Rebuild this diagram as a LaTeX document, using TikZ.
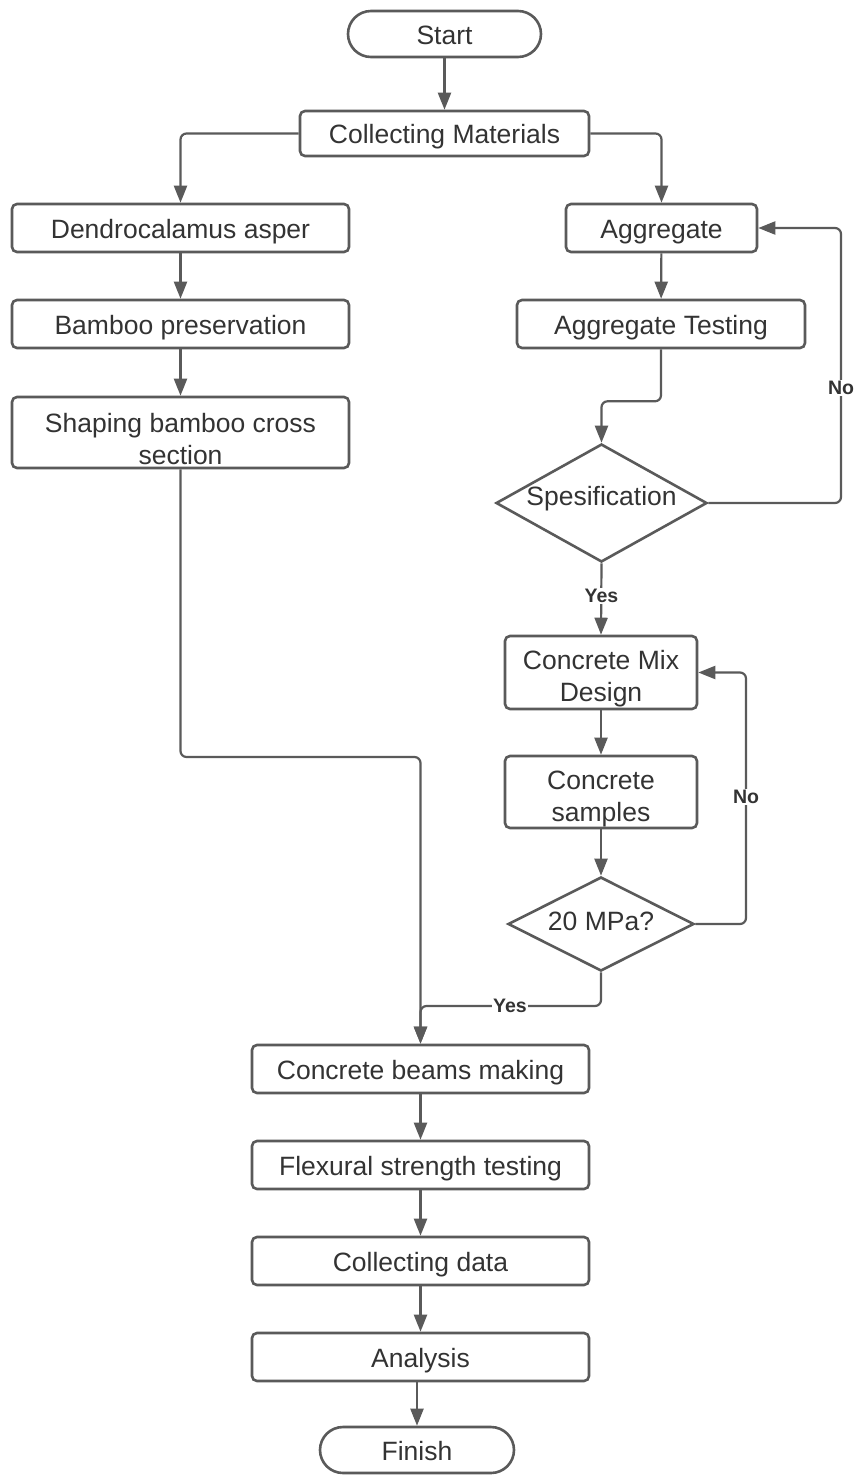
\documentclass[tikz,border=0pt]{standalone}
\usepackage{fontspec}
\setmainfont{Liberation Sans}
\usetikzlibrary{shapes.geometric,arrows.meta}
\definecolor{ln}{HTML}{5A5A5A}
\definecolor{tx}{HTML}{333333}
\begin{document}
\begin{tikzpicture}[x=1pt,y=-1pt,
 base/.style={draw=ln, line width=2.6pt, fill=white, text=tx, font=\fontsize{26.5}{32}\selectfont, align=center, inner sep=0pt},
 proc/.style={base, rectangle, rounded corners=5pt},
 one/.style={text height=20pt, text depth=0pt},
 term/.style={base, one, rectangle, rounded corners=23pt, minimum width=193pt, minimum height=46pt},
 dec/.style={base, diamond},
 txt/.style={text=tx, font=\fontsize{26.5}{32}\selectfont, align=center, inner sep=0pt},
 arr/.style={draw=ln, line width=2.2pt, -{Triangle[length=17pt,width=13pt]}, rounded corners=6pt},
 lab/.style={fill=white, text=tx, font=\bfseries\fontsize{19.5}{22}\selectfont, inner sep=1pt}
]
\useasboundingbox (0,0) rectangle (857,1476);
\fill[white] (0,0) rectangle (857,1476);

\node[term] (start) at (444.5,34) {Start};
\node[proc, one, minimum width=289pt, minimum height=45pt] (collect) at (444.5,133.5) {Collecting Materials};
\node[proc, one, minimum width=337pt, minimum height=48pt] (dendro) at (180.5,228) {Dendrocalamus asper};
\node[proc, one, minimum width=337pt, minimum height=48pt] (bamboo) at (180.5,324) {Bamboo preservation};
\node[proc, minimum width=337pt, minimum height=71pt] (shaping) at (180.5,432.5) {};
\node[txt] (shapingtext) at (180.5,439) {Shaping bamboo cross\\section};
\node[proc, one, minimum width=191pt, minimum height=48pt] (agg) at (661.5,228) {Aggregate};
\node[proc, one, minimum width=288pt, minimum height=48pt] (aggtest) at (661,324) {Aggregate Testing};
\node[dec, aspect=1.79, minimum width=211pt, minimum height=118pt] (spec) at (601.5,503) {};
\node[txt] (spectext) at (601.5,499) {Spesification};
\node[proc, minimum width=192pt, minimum height=73pt] (mix) at (601,672.5) {};
\node[txt] (mixtext) at (601,679) {Concrete Mix\\Design};
\node[proc, minimum width=192pt, minimum height=72pt] (samples) at (601,792) {};
\node[txt] (samplestext) at (601,799) {Concrete\\samples};
\node[dec, aspect=1.98, minimum width=186pt, minimum height=94pt] (mpa) at (601,924) {};
\node[txt] (mpatext) at (601,921) {20 MPa?};
\node[proc, one, minimum width=337pt, minimum height=48pt] (beams) at (420.5,1069) {Concrete beams making};
\node[proc, one, minimum width=337pt, minimum height=48pt] (flex) at (420.5,1165) {Flexural strength testing};
\node[proc, one, minimum width=337pt, minimum height=48pt] (data) at (420.5,1261) {Collecting data};
\node[proc, one, minimum width=337pt, minimum height=48pt] (analysis) at (420.5,1357) {Analysis};
\node[term, minimum width=194pt] (finish) at (417,1450) {Finish};

\coordinate (noA) at (841,388);
\coordinate (noB) at (746,797);
\coordinate (j1) at (420.5,757);
\coordinate (yesB) at (510,1006);

\draw[arr] (start) -- (collect);
\draw[arr] (collect.west) -| (dendro.north);
\draw[arr] (collect.east) -| (agg.north);
\draw[arr] (dendro) -- (bamboo);
\draw[arr] (bamboo) -- (shaping);
\draw[arr] (agg) -- (aggtest);
\draw[arr] (aggtest.south) -- ++(0,52) -| (spec.north);
\draw[arr] (spec.east) -| (noA) |- (agg.east);
\draw[arr] (spec.south) -- (mix.north);
\draw[arr] (mix) -- (samples);
\draw[arr] (samples) -- (mpa);
\draw[arr] (mpa.east) -| (noB) |- (mix.east);
\draw[arr] (shaping.south) |- (j1) -- (beams.north);
\draw[arr] (mpa.south) |- (yesB) -| (beams.north);
\draw[arr] (beams) -- (flex);
\draw[arr] (flex) -- (data);
\draw[arr] (data) -- (analysis);
\draw[arr] (analysis.south -| finish.north) -- (finish.north);

\node[lab] (noAlab) at (noA) {No};
\node[lab] (noBlab) at (noB) {No};
\node[lab] (yesAlab) at (601.5,596) {Yes};
\node[lab] (yesBlab) at (yesB) {Yes};
\end{tikzpicture}
\end{document}
